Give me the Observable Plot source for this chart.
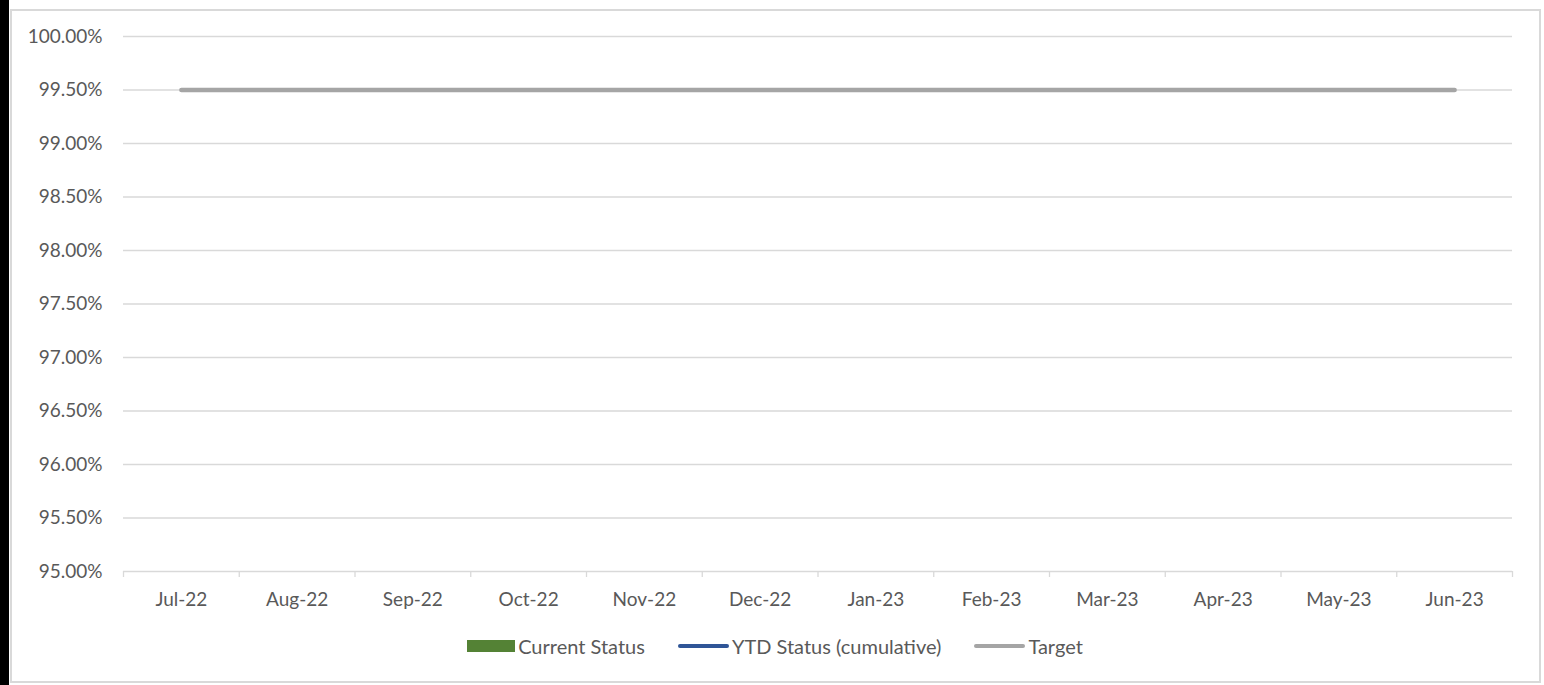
<!DOCTYPE html>
<html>
<head>
<meta charset="utf-8">
<script src="https://cdn.jsdelivr.net/npm/d3@7"></script>
<script src="https://cdn.jsdelivr.net/npm/@observablehq/plot@0.6"></script>
<style>
  html, body { margin: 0; padding: 0; background: #fff; }
  body { width: 1544px; height: 685px; position: relative; overflow: hidden; font-family: Lato, "Open Sans", sans-serif; }
  #leftbar { position: absolute; left: 0; top: 0; width: 9px; height: 685px; background: #000; }
  #frame { position: absolute; left: 10px; top: 9px; width: 1527px; height: 670px; border: 2px solid #d9d9d9; }
  #chart { position: absolute; left: 0; top: 0; }
  #legend { position: absolute; left: 10px; width: 1530px; top: 634px; display: flex; justify-content: center; align-items: center; gap: 33px; font-size: 20px; color: #595959; }
  .item { display: flex; align-items: center; gap: 3px; }
  .sw-rect { width: 48px; height: 12px; }
  .sw-line { width: 51px; height: 4px; border-radius: 2px; }
</style>
</head>
<body>
<div id="leftbar"></div>
<div id="frame"></div>
<div id="chart"></div>
<div id="legend"></div>
<script>
const months = ["Jul-22","Aug-22","Sep-22","Oct-22","Nov-22","Dec-22","Jan-23","Feb-23","Mar-23","Apr-23","May-23","Jun-23"];
const currentStatus = [null,null,null,null,null,null,null,null,null,null,null,null];
const ytdStatus = [null,null,null,null,null,null,null,null,null,null,null,null];
const target = [0.995,0.995,0.995,0.995,0.995,0.995,0.995,0.995,0.995,0.995,0.995,0.995];
const yTicks = [0.95,0.955,0.96,0.965,0.97,0.975,0.98,0.985,0.99,0.995,1.0];

const seriesNames = ["Current Status","YTD Status (cumulative)","Target"];
const seriesColors = ["#548235","#2F5597","#A5A5A5"];

const data = months.map((m, i) => ({
  i, month: m, current: currentStatus[i], ytd: ytdStatus[i], target: target[i]
}));

const txt = "#595959";
const grid = "#d9d9d9";

const chart = Plot.plot({
  width: 1544,
  height: 615,
  marginLeft: 123,
  marginRight: 32,
  marginTop: 36,
  marginBottom: 44,
  style: { fontFamily: "Lato, 'Open Sans', sans-serif", fontSize: "19px", background: "transparent" },
  x: { type: "linear", domain: [0, months.length] },
  y: { domain: [0.95, 1.0] },
  marks: [
    Plot.ruleY(yTicks, { stroke: grid, strokeWidth: 1.3 }),
    Plot.axisY({ ticks: yTicks, tickSize: 0, tickPadding: 21, tickFormat: d3.format(".2%"), fill: txt, fontSize: 19, label: null }),
    Plot.axisX({ ticks: d3.range(months.length + 1), tickSize: 6, tickFormat: () => "", stroke: grid, strokeWidth: 1.3, label: null }),
    Plot.axisX({ ticks: d3.range(months.length).map(i => i + 0.5), tickSize: 0, tickPadding: 21, tickFormat: d => months[Math.floor(d)], fill: txt, fontSize: 19, label: null }),
    Plot.rectY(data.filter(d => d.current != null), { x1: d => d.i + 0.25, x2: d => d.i + 0.75, y1: 0.95, y2: "current", fill: seriesColors[0] }),
    Plot.lineY(data.filter(d => d.ytd != null), { x: d => d.i + 0.5, y: "ytd", stroke: seriesColors[1], strokeWidth: 4.5, strokeLinecap: "round" }),
    Plot.lineY(data, { x: d => d.i + 0.5, y: "target", stroke: seriesColors[2], strokeWidth: 4.5, strokeLinecap: "round" })
  ]
});
document.getElementById("chart").appendChild(chart);

const legend = document.getElementById("legend");
seriesNames.forEach((name, k) => {
  const item = document.createElement("div");
  item.className = "item";
  const sw = document.createElement("span");
  sw.className = k === 0 ? "sw-rect" : "sw-line";
  sw.style.background = seriesColors[k];
  const label = document.createElement("span");
  label.textContent = name;
  item.appendChild(sw);
  item.appendChild(label);
  legend.appendChild(item);
});
</script>
</body>
</html>
